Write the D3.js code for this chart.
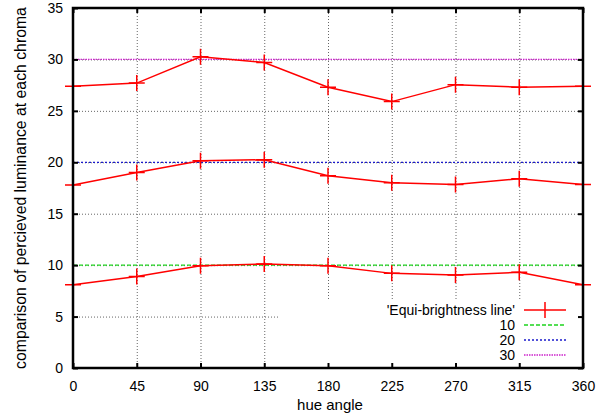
<!DOCTYPE html>
<html>
<head>
<meta charset="utf-8">
<script src="https://cdn.jsdelivr.net/npm/d3@7"></script>
<style>
  body { margin: 0; background: #fff; }
  svg text { font-family: "Liberation Sans", Arial, sans-serif; font-size: 14px; fill: #000; }
</style>
</head>
<body>
<svg class="chart" width="607" height="419"></svg>
<script>
// hue angles (x) and perceived luminance per chroma level
const hues = [0, 45, 90, 135, 180, 225, 270, 315, 360];
const chroma10 = [8.1, 8.9, 9.95, 10.1, 9.95, 9.2, 9.05, 9.3, 8.1];
const chroma20 = [17.8, 19.0, 20.15, 20.25, 18.7, 18.0, 17.85, 18.4, 17.85];
const chroma30 = [27.4, 27.7, 30.25, 29.7, 27.3, 25.9, 27.55, 27.3, 27.4];
const refLevels = [10, 20, 30];
const refColors = ["#1ed41e", "#1a1acc", "#cc22cc"];
const refDash = ["4,2", "2,2", "1.5,1"];
const xTicks = [0, 45, 90, 135, 180, 225, 270, 315, 360];
const yTicks = [0, 5, 10, 15, 20, 25, 30, 35];

var svg = d3.select("svg.chart"),
    margin = {top: 8, right: 24, bottom: 51, left: 73},
    width = parseInt(svg.attr("width")) - margin.left - margin.right,
    height = parseInt(svg.attr("height")) - margin.top - margin.bottom;

var x = d3.scaleLinear().domain([0, 360]).range([0, width]);
var y = d3.scaleLinear().domain([0, 35]).range([height, 0]);

var g = svg.append("g").attr("transform", "translate(" + margin.left + "," + margin.top + ")");

// grid
g.append("g")
  .call(d3.axisBottom(x).tickValues(xTicks.slice(1, -1)).tickSize(-height).tickFormat(""))
  .attr("transform", "translate(0," + height + ")")
  .call(a => a.select(".domain").remove())
  .selectAll("line").attr("stroke", "#666").attr("stroke-dasharray", "1,2");
g.append("g")
  .call(d3.axisLeft(y).tickValues(yTicks.slice(1, -1)).tickSize(-width).tickFormat(""))
  .call(a => a.select(".domain").remove())
  .selectAll("line").attr("stroke", "#666").attr("stroke-dasharray", "1,2");

// key background hides the grid behind it
g.append("rect")
  .attr("x", 205).attr("y", 292)
  .attr("width", width - 205).attr("height", height - 292)
  .attr("fill", "white");

// reference lines at each chroma
refLevels.forEach(function(v, i) {
  g.append("line")
    .attr("x1", 0).attr("x2", width)
    .attr("y1", y(v)).attr("y2", y(v))
    .attr("stroke", refColors[i]).attr("stroke-width", 1.3)
    .attr("stroke-dasharray", refDash[i]);
});

// measured lines
var line = d3.line()
  .x(function(d) { return x(d[0]); })
  .y(function(d) { return y(d[1]); });

[chroma10, chroma20, chroma30].forEach(function(vals) {
  var pts = hues.map((h, i) => [h, vals[i]]);
  g.append("path")
    .datum(pts)
    .attr("fill", "none")
    .attr("stroke", "red")
    .attr("stroke-width", 1.5)
    .attr("d", line);
  g.selectAll(null).data(pts).enter().append("path")
    .attr("d", d => "M" + (x(d[0]) - 8) + "," + y(d[1]) + "h16M" + x(d[0]) + "," + (y(d[1]) - 8) + "v16")
    .attr("stroke", "red").attr("stroke-width", 1.5).attr("fill", "none");
});

// border with inward ticks on all sides
function styleAxis(a) {
  a.select(".domain").remove();
  a.selectAll(".tick line").attr("stroke", "#000").attr("stroke-width", 2);
  a.selectAll(".tick text").style("font-size", "14px");
}
g.append("g").attr("transform", "translate(0," + height + ")")
  .call(d3.axisBottom(x).tickValues(xTicks).tickSizeInner(-5).tickPadding(13))
  .call(styleAxis);
g.append("g")
  .call(d3.axisLeft(y).tickValues(yTicks).tickSizeInner(-5).tickPadding(10))
  .call(styleAxis);
g.append("g")
  .call(d3.axisTop(x).tickValues(xTicks).tickSizeInner(-5).tickFormat(""))
  .call(styleAxis);
g.append("g").attr("transform", "translate(" + width + ",0)")
  .call(d3.axisRight(y).tickValues(yTicks).tickSizeInner(-5).tickFormat(""))
  .call(styleAxis);
g.append("rect")
  .attr("width", width).attr("height", height)
  .attr("fill", "none").attr("stroke", "#000").attr("stroke-width", 2.5);

// key
var keyLabels = ["'Equi-brightness line'", "10", "20", "30"];
var keyColors = ["red"].concat(refColors);
var keyDash = [null].concat(refDash);
var key = g.append("g").attr("transform", "translate(442,302)");
keyLabels.forEach(function(lbl, i) {
  var ky = i * 15;
  key.append("text").attr("x", 0).attr("y", ky + 5).attr("text-anchor", "end").text(lbl);
  key.append("line")
    .attr("x1", 9).attr("x2", 51).attr("y1", ky).attr("y2", ky)
    .attr("stroke", keyColors[i]).attr("stroke-width", i === 0 ? 1.5 : 1.3)
    .attr("stroke-dasharray", keyDash[i]);
  if (i === 0) {
    key.append("path").attr("d", "M30,-8v16").attr("stroke", "red").attr("stroke-width", 1.5);
  }
});

// axis titles
svg.append("text")
  .attr("x", margin.left + width / 2 + 2).attr("y", 410)
  .attr("text-anchor", "middle").style("font-size", "15px").text("hue angle");
svg.append("text")
  .attr("transform", "translate(26," + (margin.top + height / 2) + ") rotate(-90)")
  .attr("text-anchor", "middle").style("font-size", "15.8px")
  .text("comparison of percieved luminance at each chroma");
</script>
</body>
</html>
